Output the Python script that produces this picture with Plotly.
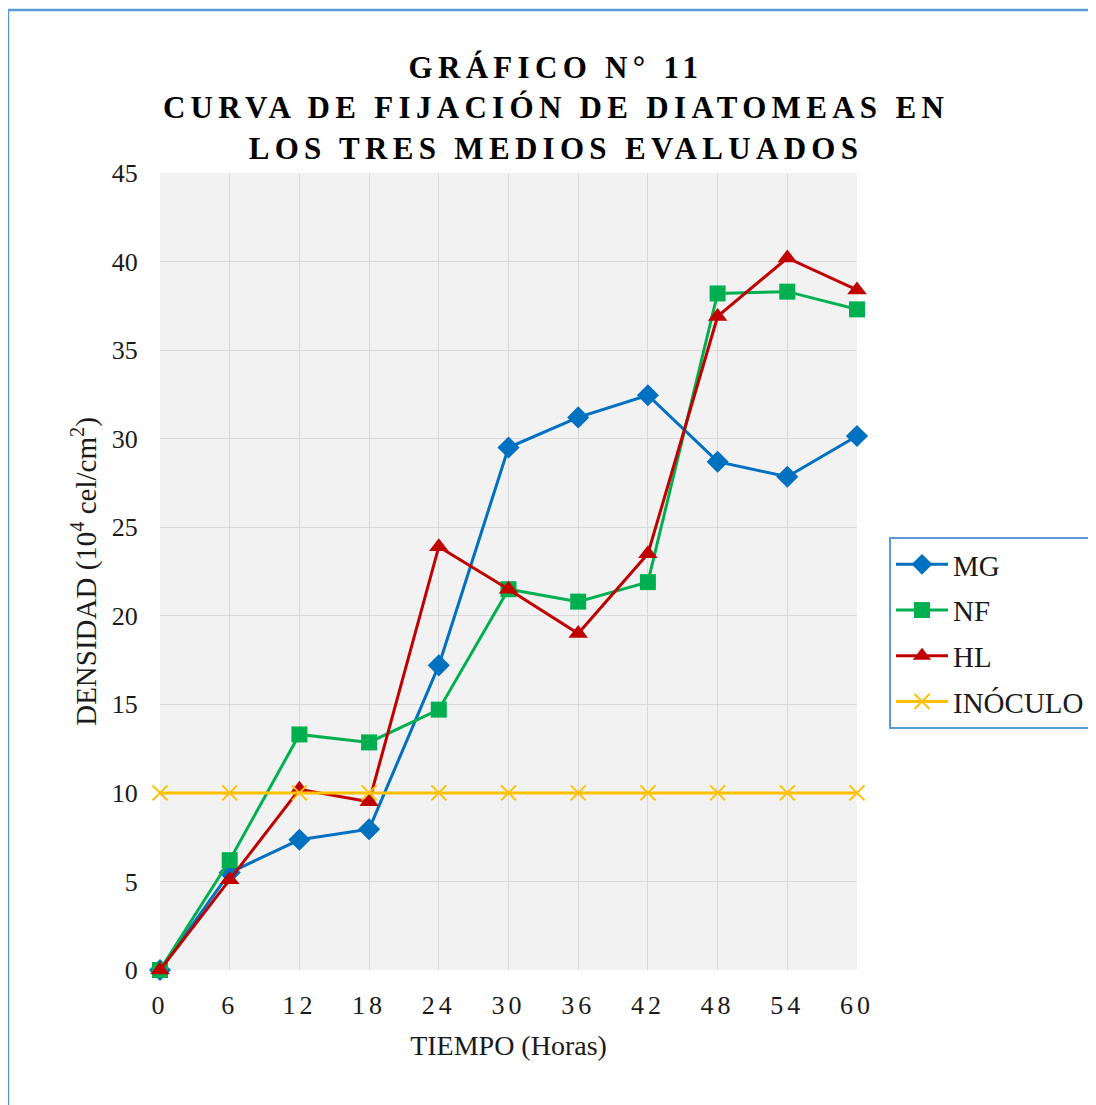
import plotly.graph_objects as go

horas = [0, 6, 12, 18, 24, 30, 36, 42, 48, 54, 60]
mg = [0, 5.5, 7.35, 7.95, 17.2, 29.5, 31.2, 32.45, 28.7, 27.85, 30.15]
nf = [0, 6.2, 13.3, 12.85, 14.7, 21.5, 20.8, 21.9, 38.2, 38.3, 37.3]
hl = [0, 5.1, 10.2, 9.5, 23.9, 21.5, 19.0, 23.5, 36.9, 40.2, 38.4]
inoculo = [10] * 11
xticks = ["0", "6", "12", "18", "24", "30", "36", "42", "48", "54", "60"]
yticks = [0, 5, 10, 15, 20, 25, 30, 35, 40, 45]

W, H = 1096, 1105
OFF = 8  # page body margin
L, R, T, B = 160 - OFF, 857 - OFF, 173 - OFF, 970 - OFF

def px(xp):
    return (xp - OFF - L) / (R - L)

def py(yp):
    return (B - (yp - OFF)) / (B - T)

serif = "Liberation Serif"
txt = "#1a1a1a"

fig = go.Figure()
series = [
    ("MG", mg, "#0070c0", "diamond", 17),
    ("NF", nf, "#00b050", "square", 16),
    ("HL", hl, "#c00000", "triangle-up", 17),
]
for name, vals, col, sym, sz in series:
    fig.add_trace(go.Scatter(
        x=horas, y=vals, name=name, mode="lines+markers", legendgroup=name,
        line=dict(color=col, width=3),
        marker=dict(symbol=sym, size=sz, color=col),
        cliponaxis=False,
    ))
fig.add_trace(go.Scatter(
    x=horas, y=inoculo, name="INÓCULO", mode="lines+markers", legendgroup="INOC",
    line=dict(color="#ffc000", width=3),
    marker=dict(symbol="x-thin", size=15, color="#ffc000",
                line=dict(color="#ffc000", width=2)),
    cliponaxis=False,
))

sp = '<span style="letter-spacing:5.3px">'
title = ("<b>" + sp + "GRÁFICO N° 11</span><br>" + sp +
         "CURVA DE FIJACIÓN DE DIATOMEAS EN</span><br>" + sp +
         "LOS TRES MEDIOS EVALUADOS</span></b>")

fig.update_layout(
    width=W, height=H,
    margin=dict(l=L, r=W - R, t=T, b=H - B),
    paper_bgcolor="white",
    plot_bgcolor="#f2f2f2",
    font=dict(family=serif, color=txt),
    title=dict(text=title, x=(556 - OFF) / W, xanchor="center", xref="container",
               y=1 - 70 / H, yanchor="top", yref="container",
               font=dict(size=31, color="#000000", family=serif)),
    showlegend=True,
    legend=dict(x=px(889), xanchor="left", y=py(537), yanchor="top",
                bordercolor="#5b9bd5", borderwidth=2, bgcolor="white",
                font=dict(size=29, family=serif, color=txt),
                traceorder="grouped",
                itemwidth=52, tracegroupgap=5),
    xaxis=dict(range=[0, 60], tickvals=horas,
               ticktext=['<span style="letter-spacing:4px">' + t + '</span>' for t in xticks],
               showgrid=True, gridcolor="#d9d9d9", gridwidth=1,
               zeroline=False, showline=False,
               ticks="outside", ticklen=12, tickcolor="rgba(0,0,0,0)",
               tickfont=dict(size=26, family=serif, color=txt),
               title=dict(text="TIEMPO (Horas)", standoff=16,
                          font=dict(size=28, family=serif, color=txt))),
    yaxis=dict(range=[0, 45], tickvals=yticks,
               showgrid=True, gridcolor="#d9d9d9", gridwidth=1,
               zeroline=False, showline=False,
               ticks="outside", ticklen=16, tickcolor="rgba(0,0,0,0)",
               tickfont=dict(size=26, family=serif, color=txt),
               title=dict(text="DENSIDAD (10<sup>4</sup> cel/cm<sup>2</sup>)", standoff=6,
                          font=dict(size=29, family=serif, color=txt))),
)

fig.add_shape(type="rect", xref="paper", yref="paper",
              x0=px(8), x1=px(1120), y0=py(1130), y1=py(10),
              line=dict(color="#5b9bd5", width=2.5), fillcolor="rgba(0,0,0,0)",
              layer="above")

fig.write_html("out.html")
